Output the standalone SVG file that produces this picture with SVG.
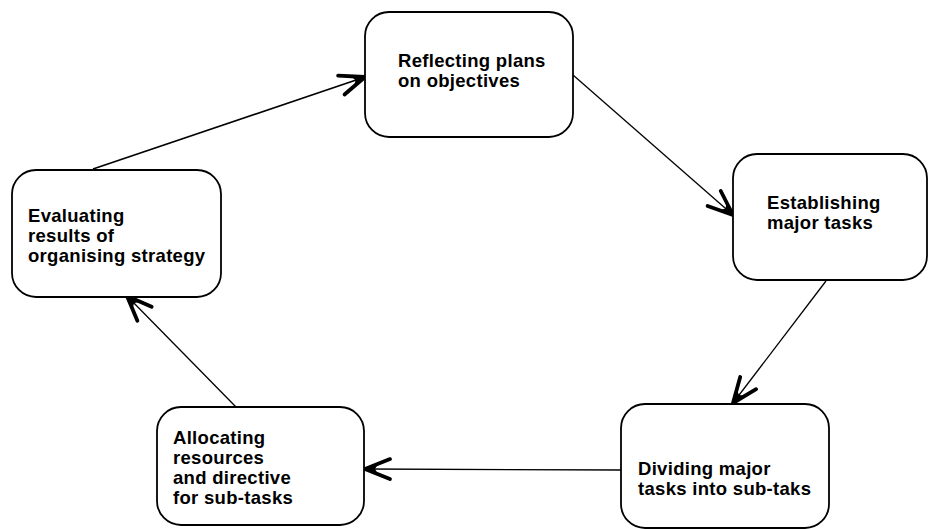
<svg xmlns="http://www.w3.org/2000/svg" width="929" height="529" viewBox="0 0 929 529">
  <style>
    .box { fill: #ffffff; stroke: #000000; stroke-width: 1.8; }
    .label { font-family: "Liberation Sans", Arial, sans-serif; font-size: 18.5px; letter-spacing: 0.3px; font-weight: bold; fill: #000000; }
    .link { fill: none; stroke: #000000; stroke-width: 1.3; }
  </style>
  <defs>
    <!-- open barbed arrowhead, tip at the path end -->
    <marker id="head" viewBox="-30 -14 34 28" refX="0" refY="0" markerWidth="34" markerHeight="28" markerUnits="userSpaceOnUse" orient="auto">
      <path d="M0,0 L-25,-10 M0,0 L-25,10" fill="none" stroke="#000000" stroke-width="3.8" stroke-linecap="round"/>
      <path d="M1,0 L-13,-5 L-10,0 L-13,5 Z" fill="#000000"/>
    </marker>
  </defs>

  <rect width="929" height="529" fill="#ffffff"/>

  <g id="connectors">
    <path class="link" style="stroke-width:1.7" d="M93,169 L365,77" marker-end="url(#head)"/>
    <path class="link" d="M573,75 L733,215" marker-end="url(#head)"/>
    <path class="link" d="M826,281 L733,403" marker-end="url(#head)"/>
    <path class="link" d="M621,470 L365,469" marker-end="url(#head)"/>
    <path class="link" d="M236,407 L127,296" marker-end="url(#head)"/>
  </g>

  <g id="reflecting">
    <rect class="box" x="365" y="12" width="208" height="125" rx="24" ry="24"/>
    <text class="label" x="398" y="67">Reflecting plans</text>
    <text class="label" x="398" y="87">on objectives</text>
  </g>

  <g id="establishing">
    <rect class="box" x="733" y="154" width="194" height="126" rx="24" ry="24"/>
    <text class="label" x="767" y="209">Establishing</text>
    <text class="label" x="767" y="229">major tasks</text>
  </g>

  <g id="dividing">
    <rect class="box" x="621" y="404" width="208" height="124" rx="24" ry="24"/>
    <text class="label" x="638" y="475">Dividing major</text>
    <text class="label" x="638" y="495">tasks into sub-taks</text>
  </g>

  <g id="allocating">
    <rect class="box" x="157" y="407" width="207" height="118" rx="24" ry="24"/>
    <text class="label" x="173" y="444">Allocating</text>
    <text class="label" x="173" y="464">resources</text>
    <text class="label" x="173" y="484">and directive</text>
    <text class="label" x="173" y="504">for sub-tasks</text>
  </g>

  <g id="evaluating">
    <rect class="box" x="12" y="170" width="209" height="127" rx="24" ry="24"/>
    <text class="label" x="28" y="222">Evaluating</text>
    <text class="label" x="28" y="242">results of</text>
    <text class="label" x="28" y="262">organising strategy</text>
  </g>
</svg>
